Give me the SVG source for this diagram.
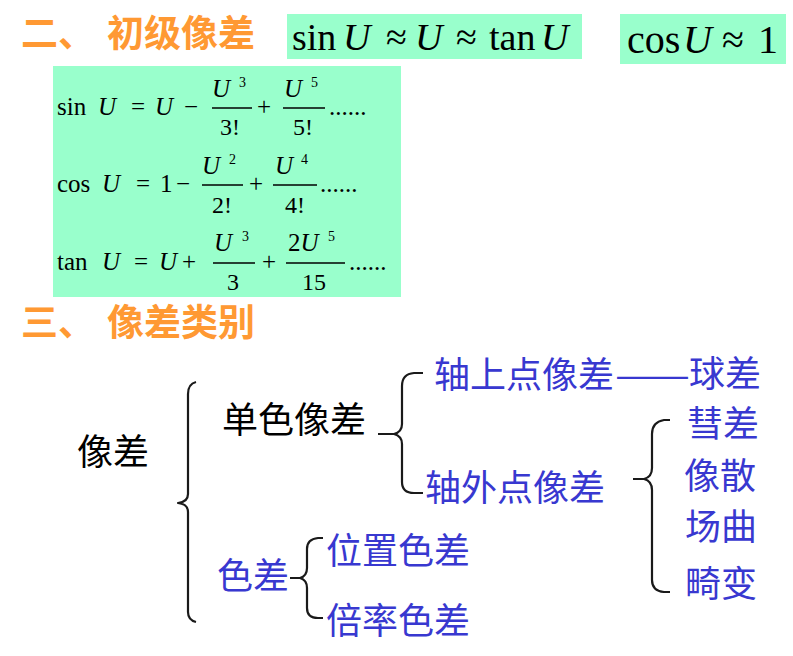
<svg xmlns="http://www.w3.org/2000/svg" width="793" height="656" viewBox="0 0 793 656">
<style>
.h{font-family:"Noto Sans CJK SC",sans-serif;font-weight:bold;font-size:37px;fill:#FF9933}
.m{font-family:"Liberation Serif",serif;fill:#000}
.i{font-style:italic}
.k{font-family:"Noto Sans CJK SC",sans-serif;font-size:36px;fill:#000}
.b{fill:#3838D0}
.br{fill:none;stroke:#1a1a1a;stroke-width:2.2;stroke-linejoin:round}
.bar{stroke:#000;stroke-width:1.3}
.box{fill:#99FFCC}
</style>
<rect width="793" height="656" fill="#fff"/>
<g id="heading2">
<text class="h" x="21" y="47">二、</text>
<text class="h" x="107" y="47">初级像差</text>
</g>
<g id="approx1">
<rect class="box" x="287" y="14" width="295" height="45"/>
<text class="m" font-size="38" y="50"><tspan x="292">sin</tspan><tspan class="i" x="343">U</tspan><tspan x="386">≈</tspan><tspan class="i" x="415">U</tspan><tspan x="456">≈</tspan><tspan x="489">tan</tspan><tspan class="i" x="541">U</tspan></text>
</g>
<g id="approx2">
<rect class="box" x="620" y="14" width="166" height="50"/>
<text class="m" font-size="40" y="53"><tspan x="627">cos</tspan><tspan class="i" x="683">U</tspan><tspan x="722">≈</tspan><tspan x="758">1</tspan></text>
</g>
<g id="series">
<rect class="box" x="53" y="66" width="348" height="231"/>
<text class="m" font-size="25" y="115"><tspan x="57">sin</tspan><tspan class="i" x="98">U</tspan><tspan x="131">=</tspan><tspan class="i" x="155">U</tspan><tspan x="184">−</tspan></text>
<line class="bar" x1="212" y1="108" x2="252" y2="108"/>
<text class="m i" font-size="25" x="212" y="97">U</text><text class="m" font-size="14" x="239" y="87">3</text>
<text class="m" font-size="24" x="220" y="135">3!</text>
<text class="m" font-size="25" x="257" y="115">+</text>
<line class="bar" x1="283" y1="108" x2="325" y2="108"/>
<text class="m i" font-size="25" x="284" y="97">U</text><text class="m" font-size="14" x="311" y="87">5</text>
<text class="m" font-size="24" x="293" y="135">5!</text>
<text class="m" font-size="25" x="329" y="115">......</text>

<text class="m" font-size="25" y="192"><tspan x="57">cos</tspan><tspan class="i" x="102">U</tspan><tspan x="136">=</tspan><tspan x="160">1</tspan><tspan x="176">−</tspan></text>
<line class="bar" x1="202" y1="185" x2="243" y2="185"/>
<text class="m i" font-size="25" x="202" y="174">U</text><text class="m" font-size="14" x="229" y="164">2</text>
<text class="m" font-size="24" x="212" y="213">2!</text>
<text class="m" font-size="25" x="249" y="192">+</text>
<line class="bar" x1="273" y1="185" x2="317" y2="185"/>
<text class="m i" font-size="25" x="275" y="174">U</text><text class="m" font-size="14" x="301" y="164">4</text>
<text class="m" font-size="24" x="285" y="213">4!</text>
<text class="m" font-size="25" x="320" y="192">......</text>

<text class="m" font-size="25" y="270"><tspan x="57">tan</tspan><tspan class="i" x="102">U</tspan><tspan x="134">=</tspan><tspan class="i" x="159">U</tspan><tspan x="182">+</tspan></text>
<line class="bar" x1="213" y1="263" x2="255" y2="263"/>
<text class="m i" font-size="25" x="214" y="251">U</text><text class="m" font-size="14" x="242" y="241">3</text>
<text class="m" font-size="24" x="227" y="290">3</text>
<text class="m" font-size="25" x="262" y="270">+</text>
<line class="bar" x1="286" y1="263" x2="345" y2="263"/>
<text class="m" font-size="25" x="288" y="251">2<tspan class="i">U</tspan></text><text class="m" font-size="14" x="328" y="241">5</text>
<text class="m" font-size="24" x="302" y="290">15</text>
<text class="m" font-size="25" x="349" y="270">......</text>
</g>
<g id="heading3">
<text class="h" x="21" y="336">三、</text>
<text class="h" x="107" y="336">像差类别</text>
</g>
<g id="n-aberration"><text class="k" x="77" y="465">像差</text></g>
<g id="n-mono"><text class="k" x="222" y="433">单色像差</text></g>
<g id="n-onaxis"><text class="k b" x="434" y="388">轴上点像差</text></g>
<g id="n-spherical"><text class="k b" x="689" y="387">球差</text></g>
<g id="n-offaxis"><text class="k b" x="425" y="501">轴外点像差</text></g>
<g id="n-coma"><text class="k b" x="687" y="437">彗差</text></g>
<g id="n-astig"><text class="k b" x="684" y="489">像散</text></g>
<g id="n-field"><text class="k b" x="685" y="540">场曲</text></g>
<g id="n-distortion"><text class="k b" x="685" y="597">畸变</text></g>
<g id="n-chromatic"><text class="k b" x="217" y="589">色差</text></g>
<g id="n-position"><text class="k b" x="326" y="564">位置色差</text></g>
<g id="n-magnif"><text class="k b" x="326" y="634">倍率色差</text></g>
<g id="connectors">
<path class="br" d="M196,382 Q188,384 188,394 L188,494 Q188,502 178,503 Q188,504 188,512 L188,612 Q188,620 196,622"/>
<path class="br" d="M423,373 L414,373 Q402,374 402,386 L402,424 Q402,432 394,434 L378,434 M394,434 Q402,436 402,444 L402,482 Q402,493 414,493 L423,493"/>
<path class="br" d="M670,420 L664,420 Q652,422 652,434 L652,468 Q652,477 644,479 L633,479 M644,479 Q652,481 652,490 L652,580 Q652,591 664,592 L670,592"/>
<path class="br" d="M323,538 L318,538 Q307,539 307,549 L307,568 Q307,576 300,578 L290,578 M300,578 Q307,580 307,588 L307,608 Q307,618 318,618 L323,618"/>
<text class="k b" x="615" y="388" textLength="75" lengthAdjust="spacingAndGlyphs">——</text>
</g>
</svg>
